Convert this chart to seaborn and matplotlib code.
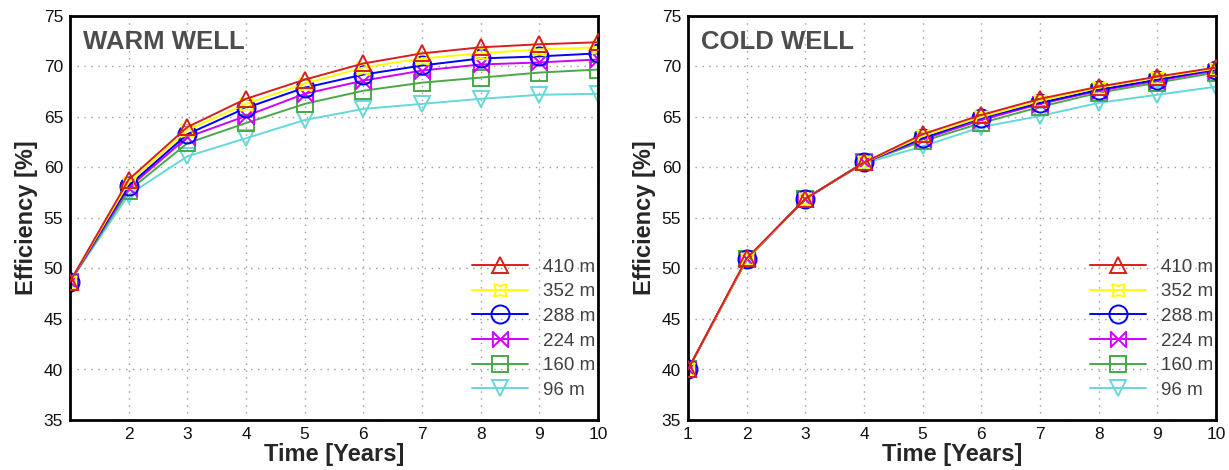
import numpy as np
import pandas as pd
import matplotlib
matplotlib.use("Agg")
import matplotlib.pyplot as plt
from matplotlib.path import Path
import seaborn as sns

years = [1, 2, 3, 4, 5, 6, 7, 8, 9, 10]
depths = ["410 m", "352 m", "288 m", "224 m", "160 m", "96 m"]

warm_410 = [48.7, 58.8, 64.0, 66.8, 68.7, 70.3, 71.3, 71.9, 72.2, 72.4]
warm_352 = [48.7, 58.5, 63.7, 66.3, 68.3, 69.9, 70.8, 71.3, 71.7, 71.9]
warm_288 = [48.7, 58.2, 63.3, 65.9, 67.9, 69.2, 70.1, 70.8, 71.0, 71.3]
warm_224 = [48.7, 58.0, 63.0, 65.1, 67.3, 68.6, 69.6, 70.2, 70.4, 70.7]
warm_160 = [48.7, 57.7, 62.4, 64.4, 66.3, 67.6, 68.4, 68.9, 69.4, 69.7]
warm_96 = [48.7, 57.3, 61.1, 62.9, 64.7, 65.8, 66.3, 66.8, 67.2, 67.3]

cold_410 = [40.0, 51.0, 56.9, 60.5, 63.3, 65.2, 66.8, 68.0, 69.0, 69.9]
cold_352 = [40.0, 50.9, 56.9, 60.5, 63.1, 65.0, 66.6, 67.9, 68.9, 69.8]
cold_288 = [40.0, 50.9, 56.9, 60.5, 62.9, 64.9, 66.4, 67.7, 68.7, 69.7]
cold_224 = [40.0, 50.9, 56.9, 60.5, 62.8, 64.7, 66.3, 67.6, 68.6, 69.6]
cold_160 = [40.0, 50.9, 56.9, 60.5, 62.6, 64.4, 66.0, 67.4, 68.4, 69.4]
cold_96 = [40.0, 50.9, 56.9, 60.4, 62.1, 64.0, 65.1, 66.4, 67.2, 68.0]

warm = [warm_410, warm_352, warm_288, warm_224, warm_160, warm_96]
cold = [cold_410, cold_352, cold_288, cold_224, cold_160, cold_96]

colors = ["#d81e1e", "#ffff00", "#0000ff", "#d000ff", "#4aa84a", "#66d8d8"]

# custom markers
star4 = (4, 1, 45)
bowtie = Path([(-1, 1), (1, -1), (1, 1), (-1, -1), (-1, 1)],
              [Path.MOVETO, Path.LINETO, Path.LINETO, Path.LINETO, Path.CLOSEPOLY])
markers = ["^", star4, "o", bowtie, "s", "v"]
msizes = [12, 13, 13, 11, 11, 12]

sns.set_theme(style="white")
plt.rcParams["font.family"] = ["Liberation Sans", "DejaVu Sans"]

fig = plt.figure(figsize=(12.29, 4.70), dpi=100)
ax1 = fig.add_axes([70 / 1229, 50 / 470, 528 / 1229, 404 / 470])
ax2 = fig.add_axes([688 / 1229, 50 / 470, 528 / 1229, 404 / 470])


def draw(ax, series, title, xticks):
    n = len(series)
    for i, (vals, lab, c, m, ms) in enumerate(zip(series, depths, colors, markers, msizes)):
        df = pd.DataFrame({"Time": years, "Eff": vals})
        sns.lineplot(data=df, x="Time", y="Eff", ax=ax, color=c, marker=m,
                     markersize=ms, markerfacecolor="none", markeredgecolor=c,
                     markeredgewidth=1.4, linewidth=1.4, label=lab,
                     zorder=2 + (n - i) * 0.1)
    ax.set_xlim(1, 10)
    ax.set_ylim(35, 75)
    ax.set_xticks(xticks)
    ax.set_yticks(range(35, 80, 5))
    ax.tick_params(axis="both", labelsize=12.5, length=0, pad=5, colors="#111111")
    ax.grid(True, linestyle=(0, (1, 4)), color="#9a9a9a", linewidth=1.0)
    for s in ax.spines.values():
        s.set_color("black")
        s.set_linewidth(2.0)
    ax.set_xlabel("Time [Years]", fontsize=17, fontweight="bold", labelpad=1)
    ax.set_ylabel("Efficiency [%]", fontsize=17, fontweight="bold", labelpad=4)
    ax.text(0.025, 0.965, title, transform=ax.transAxes, ha="left", va="top",
            fontsize=18.5, fontweight="bold", color="#4d4d4d")
    leg = ax.legend(loc="lower right", frameon=False, fontsize=13.5,
                    handlelength=3.0, handletextpad=0.8, labelspacing=0.4,
                    borderaxespad=0.3, bbox_to_anchor=(1.02, 0.02))
    for t in leg.get_texts():
        t.set_color("#404040")


draw(ax1, warm, "WARM WELL", [2, 3, 4, 5, 6, 7, 8, 9, 10])
draw(ax2, cold, "COLD WELL", [1, 2, 3, 4, 5, 6, 7, 8, 9, 10])

fig.savefig("out.png", dpi=100)
